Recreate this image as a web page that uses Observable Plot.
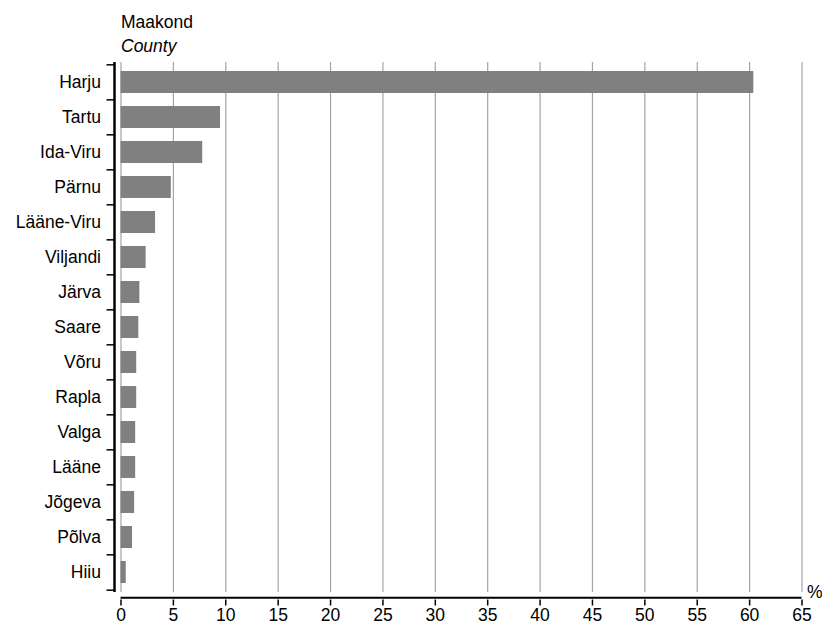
<!DOCTYPE html>
<html>
<head>
<meta charset="utf-8">
<script src="https://cdn.jsdelivr.net/npm/d3@7"></script>
<script src="https://cdn.jsdelivr.net/npm/@observablehq/plot@0.6"></script>
<style>
  html, body { margin: 0; padding: 0; background: #fff; }
</style>
</head>
<body>
<div id="chart"></div>
<script>
// ---- data ----
const counties = ["Harju", "Tartu", "Ida-Viru", "Pärnu", "Lääne-Viru", "Viljandi", "Järva", "Saare", "Võru", "Rapla", "Valga", "Lääne", "Jõgeva", "Põlva", "Hiiu"];
const shares = [60.4, 9.5, 7.8, 4.8, 3.3, 2.4, 1.8, 1.7, 1.5, 1.5, 1.4, 1.4, 1.3, 1.1, 0.5];
const xTicks = [0, 5, 10, 15, 20, 25, 30, 35, 40, 45, 50, 55, 60, 65];
const titleEt = "Maakond";
const titleEn = "County";
const unitLabel = "%";

const table = counties.map((c, i) => ({county: c, value: shares[i]}));

// ---- layout ----
const W = 822, H = 625;
const mt = 62, mb = 33, ml = 120.5, mr = 20.5;
const frameH = H - mt - mb;
const step = frameH / counties.length;
const gap = 7.5;         // gap between frame and x axis line
const last = counties[counties.length - 1];

const chart = Plot.plot({
  width: W,
  height: H,
  marginTop: mt,
  marginBottom: mb,
  marginLeft: ml,
  marginRight: mr,
  style: {fontFamily: "'Liberation Sans', Arial, sans-serif", fontSize: "17.5px", color: "#000", background: "#fff"},
  x: {domain: [0, 65], axis: null},
  y: {domain: counties, paddingInner: 0.385, paddingOuter: 0.1925, axis: null},
  marks: [
    // gridlines
    Plot.ruleX(xTicks, {x: d => d, stroke: "#a4a4a4", strokeWidth: 1.2}),
    // bars
    Plot.barX(table, {y: "county", x: "value", fill: "#808080"}),
    // y axis line
    Plot.ruleX([0], {x: d => d, dx: -6.5, stroke: "#000", strokeWidth: 2.5}),
    // y axis band-boundary ticks
    Plot.ruleY(counties, {y: d => d, x1: 0, x2: 0, insetLeft: -14, insetRight: 6, dy: -step / 2, stroke: "#000", strokeWidth: 1.5}),
    Plot.ruleY([last], {y: d => d, x1: 0, x2: 0, insetLeft: -14, insetRight: 6, dy: step / 2, stroke: "#000", strokeWidth: 1.5}),
    // y labels
    Plot.text(counties, {y: d => d, text: d => d, frameAnchor: "left", textAnchor: "end", dx: -20, fill: "#000"}),
    // x axis line
    Plot.ruleY([last], {y: d => d, x1: 0, x2: 65, dy: step / 2 + gap, stroke: "#000", strokeWidth: 2}),
    // x ticks
    Plot.ruleX(xTicks, {x: d => d, insetTop: frameH + gap, insetBottom: -(gap + 6), stroke: "#000", strokeWidth: 1.5}),
    // x tick labels
    Plot.text(xTicks, {x: d => d, text: d => String(d), frameAnchor: "bottom", lineAnchor: "bottom", dy: 28, fill: "#000"}),
    // unit label
    Plot.text([unitLabel], {text: d => d, frameAnchor: "bottom-right", textAnchor: "start", lineAnchor: "bottom", dx: 5, dy: 5, fill: "#000"}),
    // titles
    Plot.text([titleEt], {text: d => d, frameAnchor: "top-left", textAnchor: "start", lineAnchor: "bottom", dy: -35, fill: "#000"}),
    Plot.text([titleEn], {text: d => d, frameAnchor: "top-left", textAnchor: "start", lineAnchor: "bottom", dy: -11, fill: "#000", fontStyle: "italic"})
  ]
});
document.getElementById("chart").appendChild(chart);
</script>
</body>
</html>
